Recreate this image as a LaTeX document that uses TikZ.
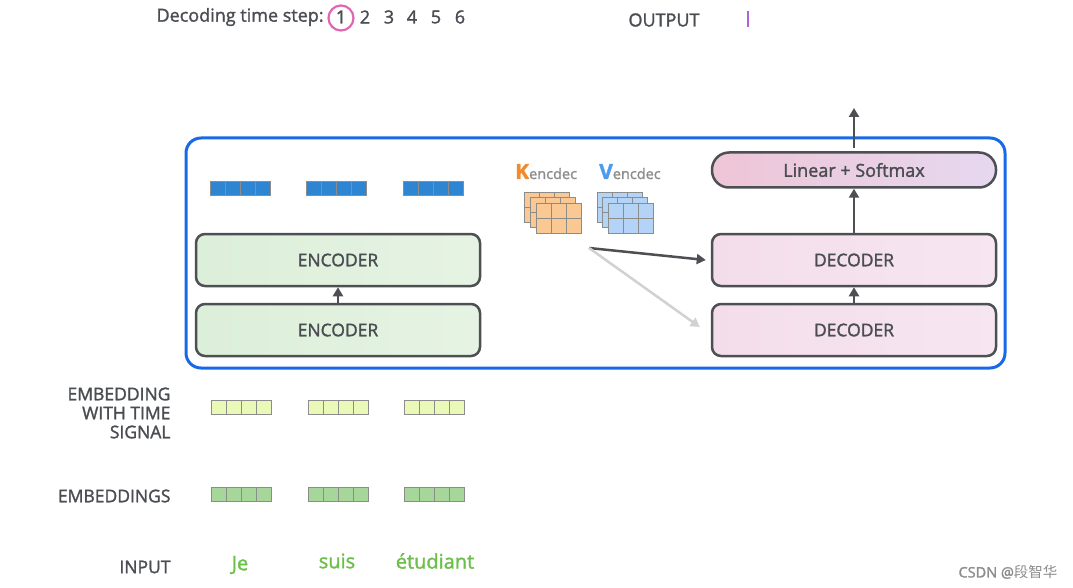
\documentclass[tikz,border=0pt]{standalone}
\usepackage{fontspec}
\setmainfont{Open Sans}[FakeBold=1.6]
\newfontfamily\cjkfont{Noto Sans CJK SC}
\usetikzlibrary{positioning, calc, arrows.meta}

\definecolor{frameblue}{HTML}{1769E8}
\definecolor{boxgray}{HTML}{4D4F53}
\definecolor{labelgray}{HTML}{4A4D52}
\definecolor{encleft}{HTML}{DCEFD9}
\definecolor{encright}{HTML}{E6F3E4}
\definecolor{decleft}{HTML}{F4DDEB}
\definecolor{decright}{HTML}{F6E6F1}
\definecolor{linleft}{HTML}{EEC5D6}
\definecolor{linright}{HTML}{E6D8F0}
\definecolor{vecblue}{HTML}{2E86D3}
\definecolor{timefill}{HTML}{EAF8B8}
\definecolor{embfill}{HTML}{A6D69A}
\definecolor{wordgreen}{HTML}{6CC04A}
\definecolor{kfill}{HTML}{FAC893}
\definecolor{vfill}{HTML}{B3D4F7}
\definecolor{korange}{HTML}{F08C2E}
\definecolor{vblue}{HTML}{4A9CF0}
\definecolor{circlepink}{HTML}{E066B2}
\definecolor{outpurple}{HTML}{B061E0}

\tikzset{
	block/.style={draw=boxgray, line width=2.5pt, rounded corners=9pt, minimum width=284pt, minimum height=52pt, text=labelgray, font=\fontsize{17.5}{19}\selectfont},
	encblock/.style={block, left color=encleft, right color=encright},
	decblock/.style={block, left color=decleft, right color=decright},
	flow/.style={draw=boxgray, line width=2.5pt, -{Triangle[length=9pt, width=10pt]}},
	faint/.style={draw=black!18, line width=2.5pt, -{Triangle[length=9pt, width=10pt]}},
	cell/.style={draw=black!45, line width=0.9pt},
	lbl/.style={text=labelgray, font=\fontsize{17.5}{19}\selectfont},
	head/.style={text=labelgray, font=\fontsize{18}{19}\selectfont},
	word/.style={text=wordgreen, font=\fontsize{20}{22}\selectfont},
}

% one embedding vector: 4 cells
\newcommand{\vecrow}[3]{
	\foreach \i in {0,...,3}
		\draw [cell, fill=#3] ($(#1,#2)+(\i*15,0)$) rectangle ++(15,14);
}
% one K or V matrix: 3x2 cells
\newcommand{\kvgrid}[3]{
	\draw [cell, fill=#3] (#1,#2) rectangle ++(45,30);
	\draw [cell] ($(#1,#2)+(15,0)$) -- ++(0,30);
	\draw [cell] ($(#1,#2)+(30,0)$) -- ++(0,30);
	\draw [cell] ($(#1,#2)+(0,15)$) -- ++(45,0);
}

\begin{document}
\begin{tikzpicture}[x=1pt, y=-1pt]
	\useasboundingbox (0,0) rectangle (1073,588);
	
	% header
	\node [head, anchor=west] (steplbl) at (153,17) {Decoding time step:};
	\node [head] (t1) at (341,17) {1};
	\node [head] (t2) at (365,17) {2};
	\node [head] (t3) at (389,17) {3};
	\node [head] (t4) at (412,17) {4};
	\node [head] (t5) at (436,17) {5};
	\node [head] (t6) at (460,17) {6};
	\draw [circlepink, line width=2.2pt] (341,18) circle (12.5);
	
	\node [head] (outlbl) at (664,20) {OUTPUT};
	\draw [outpurple, line width=1.6pt] (748,11) -- (748,27);
	
	% frame
	\draw [frameblue, line width=3pt, rounded corners=15pt] (186,138) rectangle (1005,368);
	
	% encoder side
	\node [encblock] (enctop) at (338,260) {ENCODER};
	\node [encblock] (encbot) at (338,330) {ENCODER};
	\draw [flow] (encbot) -- (enctop);
	
	\vecrow{210}{181}{vecblue}
	\vecrow{306}{181}{vecblue}
	\vecrow{403}{181}{vecblue}
	
	% K and V
	\node [anchor=base west, inner sep=0pt, text=korange, font=\bfseries\fontsize{21}{21}\selectfont] (klbl) at (515,179) {K\textcolor{black!45}{\mdseries\fontsize{14.5}{14}\selectfont encdec}};
	\node [anchor=base west, inner sep=0pt, text=vblue, font=\bfseries\fontsize{21}{21}\selectfont] (vlbl) at (599,179) {V\textcolor{black!45}{\mdseries\fontsize{14.5}{14}\selectfont encdec}};
	\kvgrid{524}{192}{kfill}
	\kvgrid{530}{197}{kfill}
	\kvgrid{536}{203}{kfill}
	\kvgrid{597}{192}{vfill}
	\kvgrid{602}{197}{vfill}
	\kvgrid{608}{203}{vfill}
	
	% decoder side
	\node [decblock] (dectop) at (854,260) {DECODER};
	\node [decblock] (decbot) at (854,330) {DECODER};
	\node [block, rounded corners=17pt, minimum height=35pt, left color=linleft, right color=linright, font=\fontsize{18}{19}\selectfont] (linsm) at (854,170) {Linear + Softmax};
	\coordinate (kvsrc) at (589,248);
	\coordinate (outtip) at (854,108);
	
	\draw [flow] (decbot) -- (dectop);
	\draw [flow] (dectop) -- (linsm);
	\draw [flow] ($(linsm.north)+(0,-3)$) -- (outtip);
	\draw [flow] (kvsrc) -- ($(dectop.west)+(-5,0)$);
	\draw [faint] (kvsrc) -- ($(decbot.west)+(-11,-3)$);
	
	% embeddings
	\node [lbl, anchor=east, align=right] (timelbl) at (174,413) {EMBEDDING\\WITH TIME\\SIGNAL};
	\vecrow{211}{400}{timefill}
	\vecrow{308}{400}{timefill}
	\vecrow{404}{400}{timefill}
	
	\node [lbl, anchor=east] (emblbl) at (174,496) {EMBEDDINGS};
	\vecrow{211}{487}{embfill}
	\vecrow{308}{487}{embfill}
	\vecrow{404}{487}{embfill}
	
	% input
	\node [lbl] (inlbl) at (145,567) {INPUT};
	\node [word] (w1) at (240,565) {Je};
	\node [word] (w2) at (337,561) {suis};
	\node [word] (w3) at (435,561) {étudiant};
	
	\node [text=black!45, font=\fontsize{14.5}{15}\selectfont] (mark) at (1008,572) {CSDN @{\cjkfont 段智华}};
\end{tikzpicture}
\end{document}
